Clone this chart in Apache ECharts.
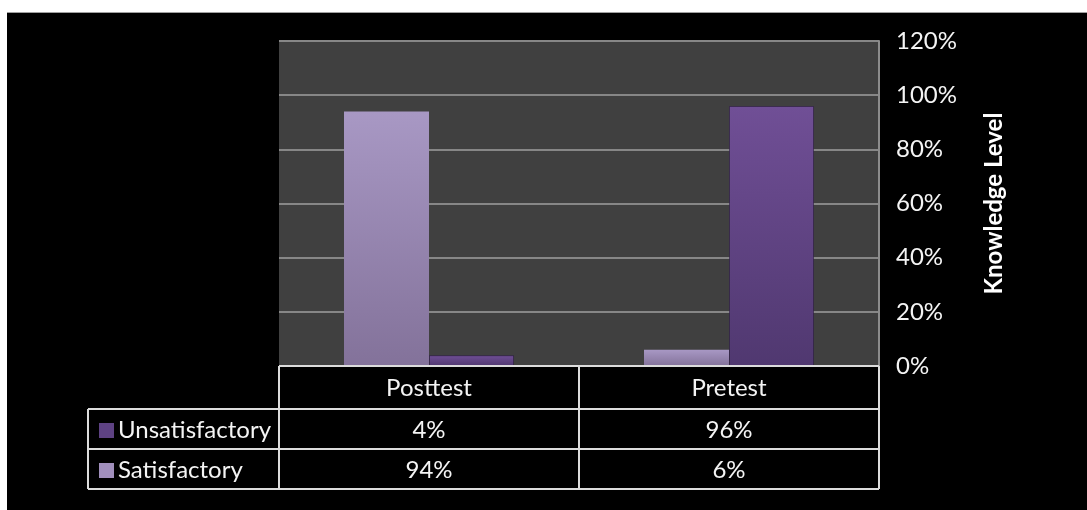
<!DOCTYPE html>
<html>
<head>
<meta charset="utf-8">
<script src="https://cdn.jsdelivr.net/npm/echarts@6/dist/echarts.min.js"></script>
<style>
  html, body { margin: 0; padding: 0; background: #ffffff; width: 1087px; height: 510px; overflow: hidden; }
  #frame-line { position: absolute; left: 7px; top: 12px; width: 1080px; height: 1px; background: #a0a0a0; }
  #chart { position: absolute; left: 7px; top: 13px; width: 1080px; height: 497px; background: #000000; }
</style>
</head>
<body>
<div id="frame-line"></div>
<div id="chart"></div>
<script>
// Knowledge level before and after the programme
const categories = ['Posttest', 'Pretest'];
const satisfactory = [0.94, 0.06];
const unsatisfactory = [0.04, 0.96];
const seriesNames = ['Satisfactory', 'Unsatisfactory'];
const tableRows = ['Unsatisfactory', 'Satisfactory'];

const FONT = 'Lato, "Open Sans", sans-serif';
const satGradient = new echarts.graphic.LinearGradient(0, 0, 0, 1, [
  { offset: 0, color: '#a898c4' },
  { offset: 1, color: '#83729a' }
]);
const unsatGradient = new echarts.graphic.LinearGradient(0, 0, 0, 1, [
  { offset: 0, color: '#704f96' },
  { offset: 1, color: '#503870' }
]);
const swatchColors = { Satisfactory: '#a18fbc', Unsatisfactory: '#5e4283' };
const valuesByName = { Satisfactory: satisfactory, Unsatisfactory: unsatisfactory };

const pct = v => Math.round(v * 100) + '%';

const chart = echarts.init(document.getElementById('chart'), null, { renderer: 'canvas' });

chart.setOption({
  backgroundColor: '#000000',
  animation: false,
  grid: {
    left: 272, right: 208, top: 28, bottom: 144,
    show: true, backgroundColor: '#404040', borderWidth: 0
  },
  xAxis: {
    type: 'category',
    data: categories,
    axisLine: { show: false },
    axisTick: { show: false },
    axisLabel: { show: false },
    splitLine: { show: false }
  },
  yAxis: {
    type: 'value',
    position: 'right',
    min: 0, max: 1.2, interval: 0.2,
    axisLine: { show: true, lineStyle: { color: '#8c8c8c', width: 2 } },
    axisTick: { show: false },
    splitLine: { show: true, lineStyle: { color: '#878787', width: 2 } },
    axisLabel: {
      formatter: v => pct(v),
      color: '#f4f4f4', fontSize: 24, fontFamily: FONT, margin: 17
    },
    name: 'Knowledge Level',
    nameLocation: 'middle',
    nameRotate: 90,
    nameGap: 103,
    nameTextStyle: { color: '#ffffff', fontSize: 24, fontWeight: 'bold', fontFamily: FONT }
  },
  series: [
    {
      name: seriesNames[0], type: 'bar', data: satisfactory,
      barWidth: 85, barGap: '0%',
      itemStyle: { color: satGradient }
    },
    {
      name: seriesNames[1], type: 'bar', data: unsatisfactory,
      barWidth: 85, barGap: '0%',
      itemStyle: { color: unsatGradient, borderColor: 'rgba(40,25,60,0.35)', borderWidth: 1 }
    }
  ]
});

// Data table under the plot, aligned to the category bands
function buildTable() {
  const c0 = chart.convertToPixel({ xAxisIndex: 0 }, 0);
  const c1 = chart.convertToPixel({ xAxisIndex: 0 }, 1);
  const band = c1 - c0;
  const edges = [c0 - band / 2, c0 + band / 2, c1 + band / 2];
  const y0 = chart.convertToPixel({ yAxisIndex: 0 }, 0);
  const headerH = 43, rowH = 40;
  const legendLeft = edges[0] - 191;
  const rowTop = [y0 + headerH, y0 + headerH + rowH];
  const bottom = y0 + headerH + 2 * rowH;
  const stroke = '#dcdcdc';
  const els = [];
  const line = (x1, y1, x2, y2) => els.push({
    type: 'line', z: 100,
    shape: { x1, y1, x2, y2 },
    style: { stroke, lineWidth: 2 }
  });
  const text = (t, x, y, align) => els.push({
    type: 'text', z: 101,
    style: {
      text: t, x, y, fill: '#f4f4f4', font: '24px ' + FONT,
      align: align || 'center', verticalAlign: 'middle'
    }
  });

  // horizontal rules
  line(edges[0], y0, edges[2], y0);
  line(legendLeft, rowTop[0], edges[2], rowTop[0]);
  line(legendLeft, rowTop[1], edges[2], rowTop[1]);
  line(legendLeft, bottom, edges[2], bottom);
  // vertical rules
  line(legendLeft, rowTop[0], legendLeft, bottom);
  edges.forEach(x => line(x, y0, x, bottom));

  // header
  categories.forEach((cat, i) => text(cat, (edges[i] + edges[i + 1]) / 2, y0 + headerH / 2 + 1));

  // rows with legend keys
  tableRows.forEach((name, r) => {
    const cy = rowTop[r] + rowH / 2 + 1;
    els.push({
      type: 'rect', z: 101,
      shape: { x: legendLeft + 11, y: cy - 7, width: 15, height: 15 },
      style: { fill: swatchColors[name] }
    });
    text(name, legendLeft + 30, cy, 'left');
    valuesByName[name].forEach((v, i) => text(pct(v), (edges[i] + edges[i + 1]) / 2, cy));
  });

  chart.setOption({ graphic: { elements: els } });
}
buildTable();
</script>
</body>
</html>
